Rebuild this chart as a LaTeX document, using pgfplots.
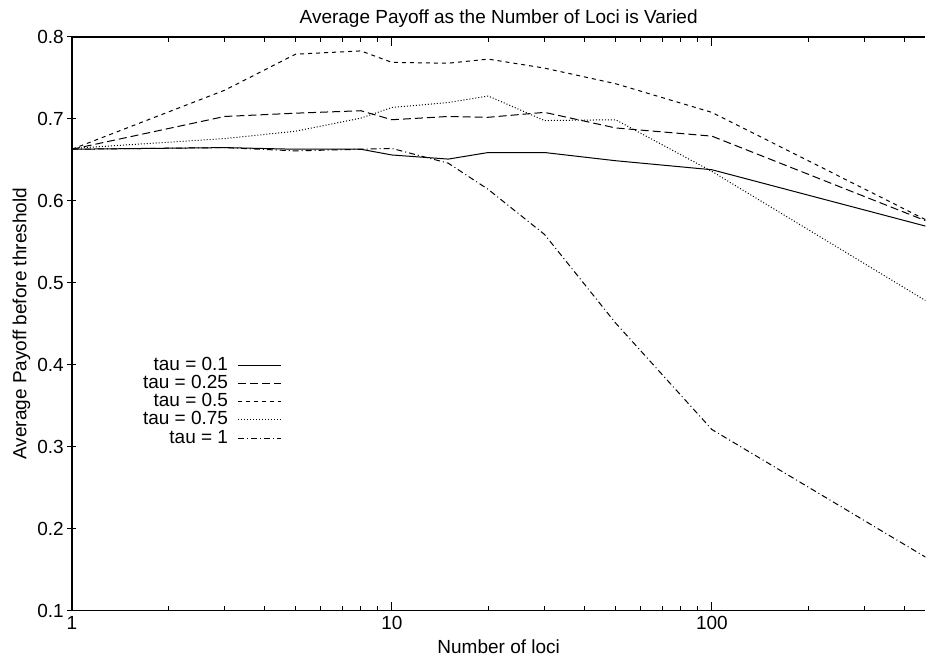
\documentclass[border=0pt]{standalone}
\usepackage{fontspec}
\setmainfont{Liberation Sans}
\usepackage{pgfplots}
\usepackage{pgfplotstable}
\pgfplotsset{compat=1.18}

% average payoff per tau, last row lies beyond the cropped right edge
\pgfplotstableread{
x    t01    t025   t05    t075   t1
1    0.663  0.663  0.663  0.664  0.663
3    0.665  0.703  0.735  0.676  0.665
5    0.663  0.707  0.779  0.685  0.661
8    0.663  0.710  0.783  0.701  0.663
10   0.656  0.699  0.769  0.714  0.664
15   0.651  0.703  0.768  0.720  0.646
20   0.659  0.702  0.773  0.728  0.614
30   0.659  0.708  0.762  0.698  0.559
50   0.649  0.689  0.743  0.699  0.451
100  0.638  0.679  0.708  0.636  0.321
500  0.566  0.571  0.571  0.471  0.158
}\payoff

\begin{document}
\fontsize{9.5}{11}\selectfont
\begin{tikzpicture}
\begin{axis}[
    scale only axis,
    width=427pt,
    height=287pt,
    xmode=log,
    xmin=1, xmax=465,
    ymin=0.1, ymax=0.8,
    axis x line=box,
    axis y line=left,
    axis line style={-, line width=0.6pt},
    xtick={1,10,100},
    xticklabels={1,10,100},
    minor xtick={2,3,4,5,6,7,8,9,20,30,40,50,60,70,80,90,200,300,400},
    ytick={0.1,0.2,0.3,0.4,0.5,0.6,0.7,0.8},
    yticklabel style={/pgf/number format/fixed, /pgf/number format/fixed zerofill,
        /pgf/number format/precision=1, xshift=1.5pt},
    xticklabel style={yshift=0.3pt},
    /pgf/number format/assume math mode=true,
    major tick length=4.5pt,
    minor tick length=2.5pt,
    tick style={line width=0.5pt, black},
    title={Average Payoff as the Number of Loci is Varied},
    title style={yshift=-4.75pt},
    xlabel={Number of loci},
    xlabel shift=-1.5pt,
    ylabel={Average Payoff before threshold},
    ylabel shift=-3pt,
    legend style={draw=none, fill=none, inner sep=0pt,
        at={(rel axis cs:0.2459,0.444)}, anchor=north east,
        nodes={text height=7pt, text depth=2.1pt, inner ysep=0pt, inner xsep=2.2pt},
        row sep=0pt},
    legend cell align=right,
    legend plot pos=right,
    legend image code/.code={\path (0pt,0pt); \draw[#1] (2.5pt,0pt) -- (24pt,0pt);},
    every axis plot/.append style={line width=0.5pt, black},
]
\addplot[solid] table[x=x, y=t01] {\payoff};
\addlegendentry{tau = 0.1}
\addplot[dash pattern=on 4pt off 2pt] table[x=x, y=t025] {\payoff};
\addlegendentry{tau = 0.25}
\addplot[dash pattern=on 2pt off 2pt] table[x=x, y=t05] {\payoff};
\addlegendentry{tau = 0.5}
\addplot[dash pattern=on 0.5pt off 1pt] table[x=x, y=t075] {\payoff};
\addlegendentry{tau = 0.75}
\addplot[dash pattern=on 3pt off 1.5pt on 0.5pt off 1.5pt] table[x=x, y=t1] {\payoff};
\addlegendentry{tau = 1}
\end{axis}
\path (-36pt,-26pt) rectangle (427pt,305.5pt);
\end{tikzpicture}
\end{document}
